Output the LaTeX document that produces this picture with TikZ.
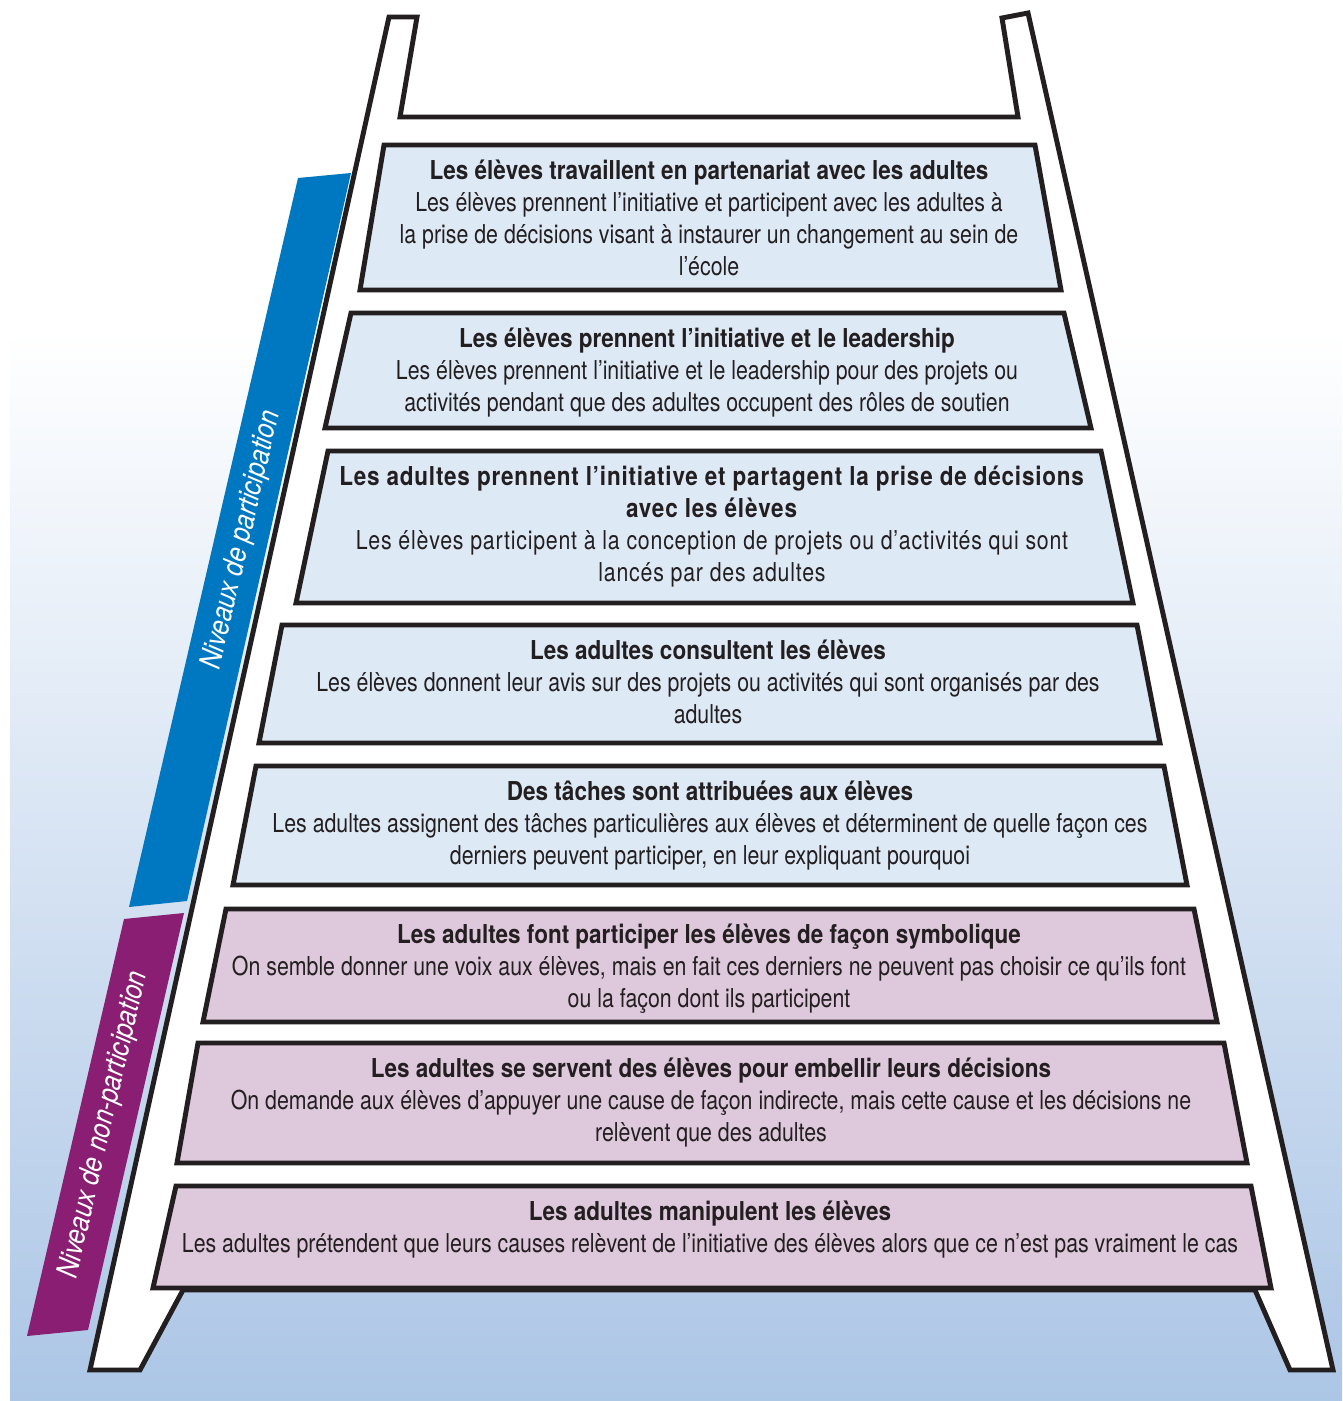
\documentclass[tikz,border=0pt]{standalone}
\usepackage{fontspec}
\setmainfont{TeX Gyre Heros}[UprightFeatures={FakeStretch=0.82},
    BoldFeatures={FakeStretch=0.865}, ItalicFeatures={FakeStretch=0.84}]
\definecolor{ink}{RGB}{35,31,32}
\definecolor{partfill}{RGB}{222,233,246}
\definecolor{nonfill}{RGB}{222,200,220}
\definecolor{partband}{RGB}{0,120,193}
\definecolor{nonband}{RGB}{137,30,114}
\definecolor{bgblue}{RGB}{172,198,230}
\tikzset{
    rail/.style={fill=white, draw=ink, line width=3.5pt, line join=miter},
    rung/.style={draw=ink, line width=3.5pt, line join=miter},
    rungtext/.style={anchor=north, align=center, inner sep=0pt, text=ink,
        font=\fontsize{18.5}{22.76}\selectfont},
    bandtext/.style={text=white, rotate=77, inner sep=0pt,
        font=\itshape\fontsize{21}{25}\selectfont}
}

\begin{document}
\begin{tikzpicture}[x=0.025cm, y=-0.025cm]
            \useasboundingbox (0,0) rectangle (1342,1401);
            % background
            \fill[white] (0,0) rectangle (1342,1401);
            \shade[top color=white, bottom color=bgblue] (10,330) rectangle (1342,1401);
            % side bands
            \fill[partband] (298,178) -- (351,173) -- (187,901) -- (129,907) -- cycle;
            \fill[nonband] (124,919) -- (184,913) -- (88,1330) -- (27,1336) -- cycle;
            \node[bandtext] (partlabel) at (242,540) {Niveaux de participation};
            \node[bandtext] (nonlabel) at (104,1125) {Niveaux de non-participation};
            % ladder
            \draw[rail] (389,17) -- (417,17) -- (400,117) -- (1018,117) -- (1002,18) -- (1028,13)
                -- (1333,1370) -- (1290,1370) -- (1255,1290) -- (183,1290) -- (140,1370) -- (90,1370) -- cycle;
            \foreach \yt/\yb/\xtl/\xbl/\xtr/\xbr/\fillc in {145/290/384/360/1035/1061/partfill,
                313/428/351/325/1064/1091/partfill, 451/603/328/296/1101/1133/partfill,
                625/743/282/259/1137/1160/partfill, 766/885/256/233/1164/1187/partfill,
                909/1022/226/203/1194/1217/nonfill, 1043/1163/198/177/1224/1247/nonfill,
                1186/1288/176/153/1251/1271/nonfill}{
                \draw[rung, fill=\fillc] (\xtl,\yt) -- (\xtr,\yt) -- (\xbr,\yb) -- (\xbl,\yb) -- cycle;
            }
            % rung texts
            \node[rungtext] (partner) at (709,160) {\textbf{Les élèves travaillent en partenariat avec les adultes}\\
                Les élèves prennent l’initiative et participent avec les adultes à\\
                la prise de décisions visant à instaurer un changement au sein de\\
                l’école};
            \node[rungtext] (leader) at (707,328) {\textbf{Les élèves prennent l’initiative et le leadership}\\
                Les élèves prennent l’initiative et le leadership pour des projets ou\\
                activités pendant que des adultes occupent des rôles de soutien};
            \node[rungtext, font=\fontsize{18.5}{22.76}\selectfont\addfontfeatures{LetterSpace=3}] (shared) at (712,466)
                {\textbf{Les adultes prennent l’initiative et partagent la prise de décisions}\\
                \textbf{avec les élèves}\\
                Les élèves participent à la conception de projets ou d’activités qui sont\\
                lancés par des adultes};
            \node[rungtext] (consult) at (708,640) {\textbf{Les adultes consultent les élèves}\\
                Les élèves donnent leur avis sur des projets ou activités qui sont organisés par des\\
                adultes};
            \node[rungtext] (assigned) at (710,781) {\textbf{Des tâches sont attribuées aux élèves}\\
                Les adultes assignent des tâches particulières aux élèves et déterminent de quelle façon ces\\
                derniers peuvent participer, en leur expliquant pourquoi};
            \node[rungtext] (token) at (709,924) {\textbf{Les adultes font participer les élèves de façon symbolique}\\
                On semble donner une voix aux élèves, mais en fait ces derniers ne peuvent pas choisir ce qu’ils font\\
                ou la façon dont ils participent};
            \node[rungtext] (decor) at (711,1058) {\textbf{Les adultes se servent des élèves pour embellir leurs décisions}\\
                On demande aux élèves d’appuyer une cause de façon indirecte, mais cette cause et les décisions ne\\
                relèvent que des adultes};
            \node[rungtext] (manip) at (710,1201) {\textbf{Les adultes manipulent les élèves}\\
                Les adultes prétendent que leurs causes relèvent de l’initiative des élèves alors que ce n’est pas vraiment le cas};
        \end{tikzpicture}
\end{document}
